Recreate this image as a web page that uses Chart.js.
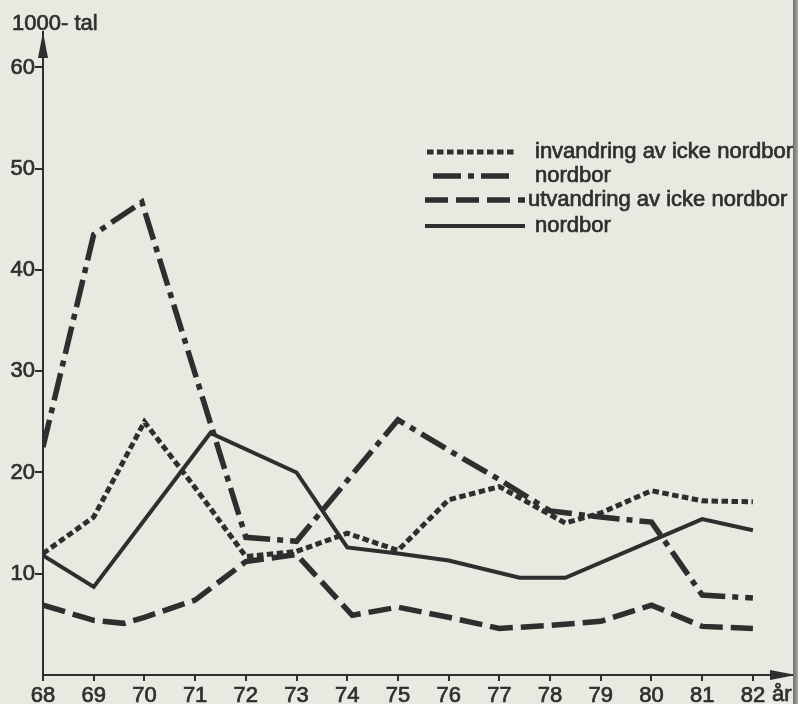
<!DOCTYPE html>
<html><head><meta charset="utf-8">
<script src="https://cdn.jsdelivr.net/npm/chart.js@4.4.1/dist/chart.umd.min.js"></script>
<style>
html,body{margin:0;padding:0;background:#e9e9e1;}
#wrap{position:relative;width:798px;height:704px;overflow:hidden;}
#edge{position:absolute;left:793px;top:0;width:5px;height:704px;background:linear-gradient(to right,#6f6f6a,#a9a9a3);}
</style></head><body>
<div id="wrap"><canvas id="c" width="798" height="704"></canvas><div id="edge"></div></div>
<script>
// ---- data, values in thousands ----
const yearTicks  = [68,69,70,71,72,73,74,75,76,77,78,79,80,81,82];
const valueTicks = [10,20,30,40,50,60];
const yAxisTitle = '1000- tal';
const xAxisTitle = 'år';
const seriesLabels = ['invandring av icke nordbor','nordbor','utvandring av icke nordbor','nordbor'];

// invandring av icke nordbor (dotted)
const inIckeYears  = [68,69,70,71,72,73,74,75,76,77,78.3,79,80,81,82];
const inIckeValues = [12,15.6,25,18.5,11.7,12.2,14,12.3,17.3,18.6,15,16,18.2,17.2,17.1];
// invandring nordbor (dash-dot)
const inNordYears  = [68,69,69.95,72,73,75,76,77,78,79,80,81,82];
const inNordValues = [22.5,43.5,46.7,13.6,13.2,25.2,22.2,19.3,16.2,15.6,15.1,7.9,7.6];
// utvandring av icke nordbor (long dashes)
const utIckeYears  = [68,69,69.6,70,71,72,73,74.1,75,76,77,78,79,80,81,82];
const utIckeValues = [6.9,5.4,5.1,5.7,7.4,11.2,11.9,5.9,6.7,5.7,4.6,4.9,5.3,6.9,4.8,4.6];
// utvandring nordbor (solid)
const utNordYears  = [68,69,71.3,73,74,75,76,77.4,78.3,81,82];
const utNordValues = [11.8,8.7,23.9,20,12.6,12,11.3,9.6,9.6,15.4,14.3];

const ink = '#2e2e2e';
const FONT = '"Liberation Sans", Arial, sans-serif';
const STROKE = 0.7;
const pts = (xs, ys) => xs.map((x, i) => ({x, y: ys[i]}));

const styles = [
  {borderWidth: 5,   borderDash: [6.5, 3.5]},
  {borderWidth: 5.5, borderDash: [28, 7, 6, 7]},
  {borderWidth: 5.5, borderDash: [23, 8]},
  {borderWidth: 4,   borderDash: []}
];
const seriesData = [pts(inIckeYears, inIckeValues), pts(inNordYears, inNordValues),
                    pts(utIckeYears, utIckeValues), pts(utNordYears, utNordValues)];

const datasets = seriesData.map((d, i) => Object.assign({
  label: seriesLabels[i], data: d, borderColor: ink, backgroundColor: ink,
  pointRadius: 0, tension: 0, fill: false, borderCapStyle: 'butt', borderJoinStyle: 'miter'
}, styles[i]));

function heavyText(ctx, s, x, y) {
  ctx.strokeText(s, x, y);
  ctx.fillText(s, x, y);
}

const decor = {
  id: 'decor',
  afterDraw(chart) {
    const {ctx, chartArea: a} = chart;
    ctx.save();
    ctx.fillStyle = ink;
    ctx.strokeStyle = ink;
    // y arrow
    ctx.beginPath();
    ctx.moveTo(a.left, a.top); ctx.lineTo(a.left - 5, a.top + 26); ctx.lineTo(a.left + 5, a.top + 26);
    ctx.closePath(); ctx.fill();
    // x arrow
    ctx.beginPath();
    ctx.moveTo(a.right, a.bottom); ctx.lineTo(a.right - 26, a.bottom - 5); ctx.lineTo(a.right - 26, a.bottom + 5);
    ctx.closePath(); ctx.fill();
    ctx.font = '22px ' + FONT;
    ctx.lineWidth = STROKE;
    ctx.textBaseline = 'alphabetic';
    ctx.textAlign = 'left';
    heavyText(ctx, yAxisTitle, 12, 30);
    heavyText(ctx, xAxisTitle, 772, 701);
    // legend
    const rows = [
      {y: 152, x1: 427, x2: 515, tx: 535},
      {y: 176, x1: 433, x2: 515, tx: 535},
      {y: 200, x1: 425, x2: 525, tx: 528},
      {y: 226, x1: 425, x2: 525, tx: 535}
    ];
    chart.data.datasets.forEach((ds, i) => {
      const r = rows[i];
      ctx.save();
      ctx.lineWidth = ds.borderWidth;
      ctx.setLineDash(ds.borderDash || []);
      ctx.beginPath(); ctx.moveTo(r.x1, r.y); ctx.lineTo(r.x2, r.y); ctx.stroke();
      ctx.restore();
      heavyText(ctx, ds.label, r.tx, r.y + 6);
    });
    ctx.restore();
  }
};

const tickFont = {family: FONT, size: 22};

new Chart(document.getElementById('c'), {
  type: 'line',
  data: {datasets},
  plugins: [decor],
  options: {
    responsive: false,
    animation: false,
    devicePixelRatio: 1,
    layout: {padding: {top: 32, right: 2, left: 0, bottom: 0}},
    plugins: {legend: {display: false}, tooltip: {enabled: false}},
    scales: {
      x: {
        type: 'linear', min: 68, max: 82.85,
        afterBuildTicks: s => { s.ticks = yearTicks.map(v => ({value: v})); },
        afterFit: s => { s.height = 29; },
        grid: {drawOnChartArea: false, drawTicks: true, tickLength: 6, color: ink, lineWidth: 2},
        border: {display: true, color: ink, width: 2},
        ticks: {color: ink, font: tickFont, padding: 2, maxRotation: 0, autoSkip: false,
                textStrokeColor: ink, textStrokeWidth: STROKE, callback: v => String(v)}
      },
      y: {
        type: 'linear', min: 0, max: 63.5,
        afterBuildTicks: s => { s.ticks = valueTicks.map(v => ({value: v})); },
        afterFit: s => { s.width = 43; },
        grid: {drawOnChartArea: false, drawTicks: true, tickLength: 8, color: ink, lineWidth: 2},
        border: {display: true, color: ink, width: 2},
        ticks: {color: ink, font: tickFont, padding: 0,
                textStrokeColor: ink, textStrokeWidth: STROKE, callback: v => String(v)}
      }
    }
  }
});
</script>
</body></html>
